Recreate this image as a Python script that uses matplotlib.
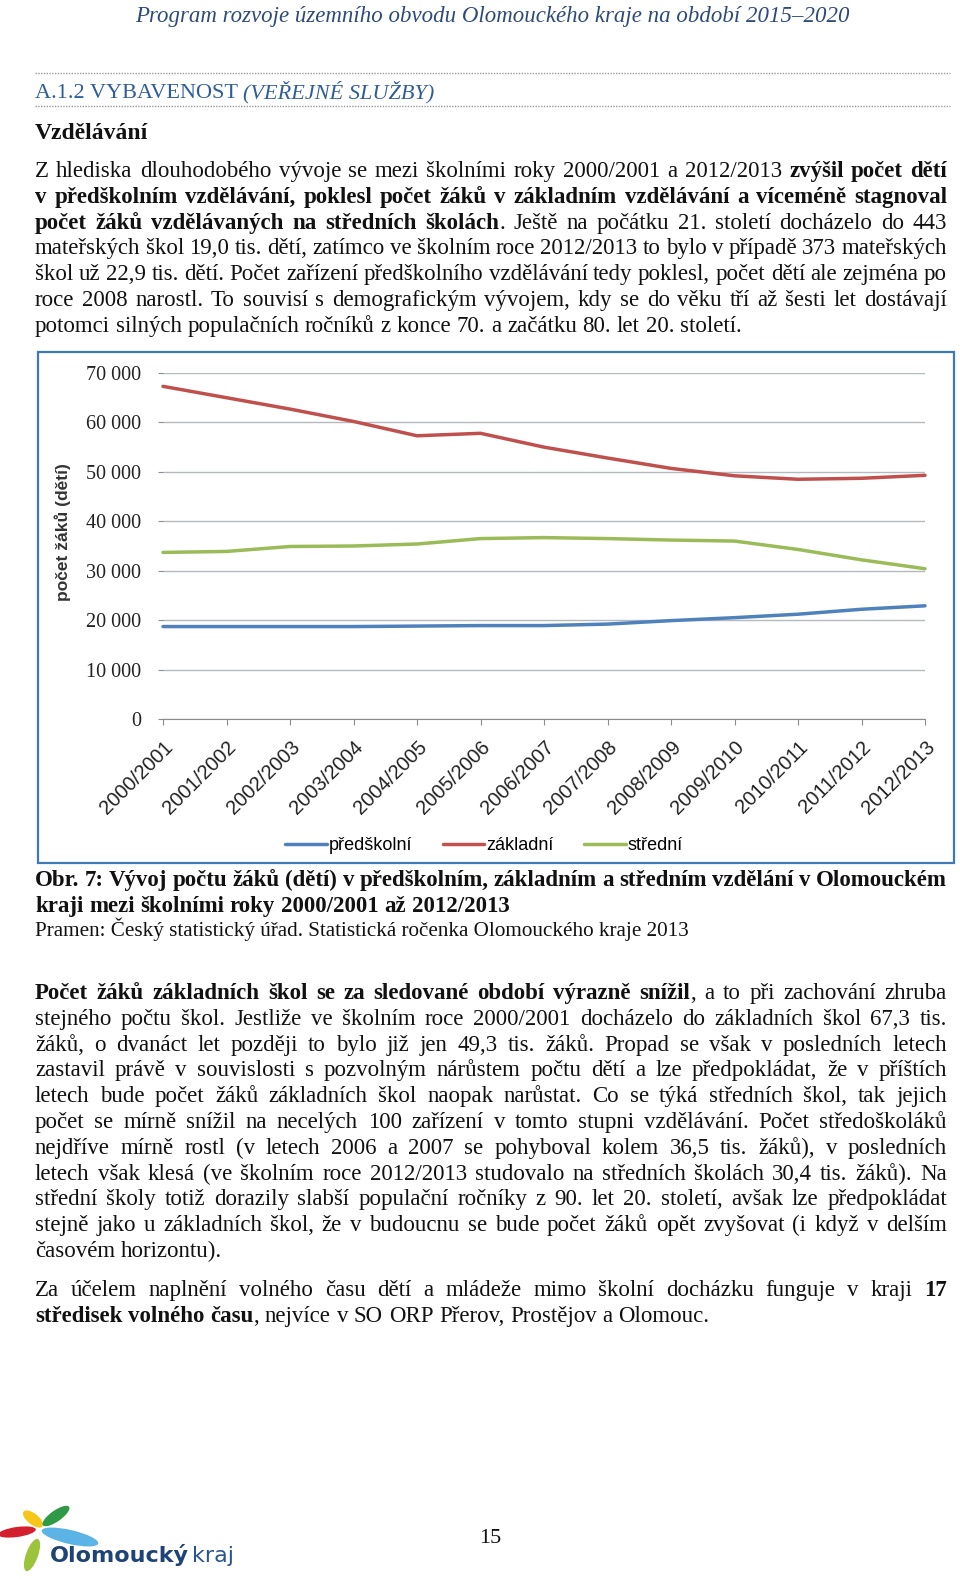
import matplotlib
matplotlib.use('Agg')
import matplotlib.pyplot as plt
from matplotlib.patches import Rectangle, Ellipse
from matplotlib.ticker import FuncFormatter

# chart data (pupils / children)
years = ['2000/2001', '2001/2002', '2002/2003', '2003/2004', '2004/2005',
         '2005/2006', '2006/2007', '2007/2008', '2008/2009', '2009/2010',
         '2010/2011', '2011/2012', '2012/2013']
predskolni = [18700, 18700, 18700, 18700, 18800, 18900, 18900,
              19200, 19900, 20500, 21200, 22200, 22900]
zakladni = [67300, 65000, 62700, 60200, 57300, 57800, 55000,
            52800, 50700, 49200, 48500, 48700, 49300]
stredni = [33700, 33900, 34900, 35000, 35400, 36500, 36700,
           36500, 36200, 36000, 34300, 32200, 30400]
series_names = ['předškolní', 'základní', 'střední']
series_colors = ['#4f81bd', '#c0504d', '#9bbb59']
y_ticks = [0, 10000, 20000, 30000, 40000, 50000, 60000, 70000]

# page texts
header = 'Program rozvoje územního obvodu Olomouckého kraje na období 2015–2020'
section = 'A.1.2 VYBAVENOST '
section_it = '(VEŘEJNÉ SLUŽBY)'
subsection = 'Vzdělávání'
para1 = [
    'Z hlediska dlouhodobého vývoje se mezi školními roky 2000/2001 a 2012/2013 **zvýšil počet dětí**',
    '**v předškolním vzdělávání, poklesl počet žáků v základním vzdělávání a víceméně stagnoval**',
    '**počet žáků vzdělávaných na středních školách**. Ještě na počátku 21. století docházelo do 443',
    'mateřských škol 19,0 tis. dětí, zatímco ve školním roce 2012/2013 to bylo v případě 373 mateřských',
    'škol už 22,9 tis. dětí. Počet zařízení předškolního vzdělávání tedy poklesl, počet dětí ale zejména po',
    'roce 2008 narostl. To souvisí s demografickým vývojem, kdy se do věku tří až šesti let dostávají',
    'potomci silných populačních ročníků z konce 70. a začátku 80. let 20. století.',
]
caption = [
    '**Obr. 7: Vývoj počtu žáků (dětí) v předškolním, základním a středním vzdělání v Olomouckém**',
    '**kraji mezi školními roky 2000/2001 až 2012/2013**',
]
source = 'Pramen: Český statistický úřad. Statistická ročenka Olomouckého kraje 2013'
para2 = [
    '**Počet žáků základních škol se za sledované období výrazně snížil**, a to při zachování zhruba',
    'stejného počtu škol. Jestliže ve školním roce 2000/2001 docházelo do základních škol 67,3 tis.',
    'žáků, o dvanáct let později to bylo již jen 49,3 tis. žáků. Propad se však v posledních letech',
    'zastavil právě v souvislosti s pozvolným nárůstem počtu dětí a lze předpokládat, že v příštích',
    'letech bude počet žáků základních škol naopak narůstat. Co se týká středních škol, tak jejich',
    'počet se mírně snížil na necelých 100 zařízení v tomto stupni vzdělávání. Počet středoškoláků',
    'nejdříve mírně rostl (v letech 2006 a 2007 se pohyboval kolem 36,5 tis. žáků), v posledních',
    'letech však klesá (ve školním roce 2012/2013 studovalo na středních školách 30,4 tis. žáků). Na',
    'střední školy totiž dorazily slabší populační ročníky z 90. let 20. století, avšak lze předpokládat',
    'stejně jako u základních škol, že v budoucnu se bude počet žáků opět zvyšovat (i když v delším',
    'časovém horizontu).',
]
para3 = [
    'Za účelem naplnění volného času dětí a mládeže mimo školní docházku funguje v kraji **17**',
    '**středisek volného času**, nejvíce v SO ORP Přerov, Prostějov a Olomouc.',
]

SERIF = 'Liberation Serif'
SANS = 'Liberation Sans'
TEXT = '#111111'
BODY = 16.5
LEAD = 25.8

fig = plt.figure(figsize=(9.6, 15.79), dpi=100)
page = fig.add_axes([0, 0, 1, 1])
page.set_xlim(0, 960)
page.set_ylim(1579, 0)
page.axis('off')
renderer = fig.canvas.get_renderer()


def text_width(s, **kw):
    t = page.text(0, 0, s, **kw)
    w = t.get_window_extent(renderer).width
    t.remove()
    return w


def split_words(line):
    # "**" toggles bold; returns words as lists of (piece, bold)
    words = [[]]
    for i, seg in enumerate(line.split('**')):
        bold = i % 2 == 1
        for j, p in enumerate(seg.split(' ')):
            if j > 0:
                words.append([])
            if p:
                words[-1].append((p, bold))
    return [w for w in words if w]


def draw_line(line, y, size=BODY, x0=35, x1=947, justify=True, color=TEXT):
    words = split_words(line)
    widths = []
    for w in words:
        widths.append([text_width(p, family=SERIF, size=size,
                                  weight='bold' if b else 'normal') for p, b in w])
    total = sum(sum(ws) for ws in widths)
    if justify and len(words) > 1:
        gap = (x1 - x0 - total) / (len(words) - 1)
    else:
        gap = 0.25 * size * 100 / 72
    x = x0
    for w, ws in zip(words, widths):
        for (p, b), pw in zip(w, ws):
            page.text(x, y, p, family=SERIF, size=size, color=color,
                      weight='bold' if b else 'normal', ha='left', va='baseline')
            x += pw
        x += gap


def draw_paragraph(lines, y0):
    for i, line in enumerate(lines):
        draw_line(line, y0 + i * LEAD, justify=(i < len(lines) - 1))


# header and section titles
page.text(492, 22, header, family=SERIF, style='italic', size=16.5,
          color='#2e4a7a', ha='center', va='baseline')
page.plot([35, 950], [73, 73], color='#9a9a9a', lw=1, ls=(0, (1, 1)))
page.plot([35, 950], [106, 106], color='#9a9a9a', lw=1, ls=(0, (1, 1)))
page.text(35, 98, section, family=SERIF, size=16, color='#2f5d9c', va='baseline')
sw = text_width(section, family=SERIF, size=16)
page.text(35 + sw, 98, section_it, family=SERIF, size=16, style='italic',
          color='#2f5d9c', va='baseline')
page.text(35, 139, subsection, family=SERIF, size=17, weight='bold',
          color=TEXT, va='baseline')

draw_paragraph(para1, 177)
draw_paragraph(caption, 886)
page.text(35, 936, source, family=SERIF, size=15.2, color=TEXT, va='baseline')
draw_paragraph(para2, 999)
draw_paragraph(para3, 1296)

# chart frame
page.add_patch(Rectangle((38, 352), 916, 511, fill=False, edgecolor='#3d7ab8', lw=1.6))
page.text(63, 532, 'počet žáků (dětí)', rotation=90, ha='center', va='center',
          family=SANS, weight='bold', size=12.5, color='#333333')

ax = fig.add_axes([163 / 960, 1 - 719 / 1579, (925 - 163) / 960, (719 - 373) / 1579])
ax.set_facecolor('none')
xs = list(range(len(years)))
for vals, name, col in zip([predskolni, zakladni, stredni], series_names, series_colors):
    ax.plot(xs, vals, color=col, lw=2.5, label=name, solid_capstyle='round', clip_on=False)
ax.set_xlim(0, len(years) - 1)
ax.set_ylim(0, 70000)
ax.set_yticks(y_ticks)
ax.yaxis.set_major_formatter(FuncFormatter(lambda v, p: f'{int(v):,}'.replace(',', ' ')))
ax.grid(axis='y', color='#b4b9bf', lw=1)
ax.set_axisbelow(True)
for s in ['top', 'right', 'left']:
    ax.spines[s].set_visible(False)
ax.spines['bottom'].set_color('#8c8c8c')
ax.tick_params(axis='y', length=3.6, color='#8c8c8c', pad=12, labelsize=14.5)
ax.tick_params(axis='x', length=4.3, color='#8c8c8c', pad=9, labelsize=14.5)
ax.set_xticks(xs)
ax.set_xticklabels(years, rotation=45, ha='right', rotation_mode='anchor', family=SANS)
for lbl in ax.get_yticklabels():
    lbl.set_family(SERIF)
    lbl.set_color('#222222')
for lbl in ax.get_xticklabels():
    lbl.set_color('#222222')

ax.legend(loc='center', bbox_to_anchor=(484 / 960, 1 - 846 / 1579),
          bbox_transform=fig.transFigure, ncol=3, frameon=False,
          handlelength=2.3, handletextpad=0.1, columnspacing=1.7,
          prop={'family': SANS, 'size': 13})

# footer: logo and page number
petals = [((33, 1519), 24, 11, 38, '#f6c618'),
          ((56, 1516), 32, 11, -35, '#2e9a47'),
          ((17, 1532), 38, 10, -8, '#d3202e'),
          ((70, 1537), 58, 14, 13, '#5bb3e6'),
          ((32, 1555), 34, 12, -70, '#9cc33c')]
for c, w, h, ang, col in petals:
    page.add_patch(Ellipse(c, w, h, angle=ang, color=col, lw=0))
page.text(50, 1562, 'Olomoucký', family='DejaVu Sans', weight='bold', size=16,
          color='#1e4477', va='baseline')
ow = text_width('Olomoucký', family='DejaVu Sans', weight='bold', size=16)
page.text(53 + ow, 1562, 'kraj', family='DejaVu Sans', size=16,
          color='#2a5590', va='baseline')
page.text(490, 1543, '15', family=SERIF, size=16, color=TEXT, ha='center', va='baseline')

fig.savefig('out.png', dpi=100)
